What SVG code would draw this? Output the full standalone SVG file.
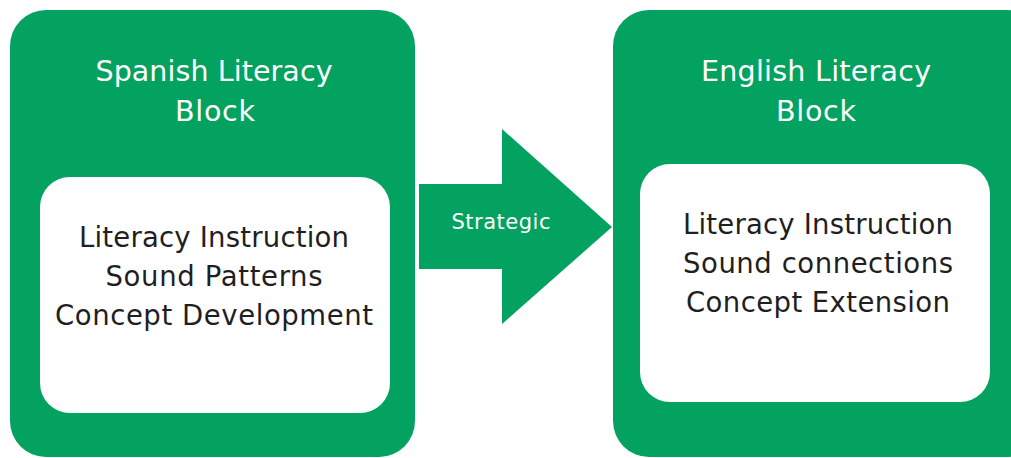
<svg xmlns="http://www.w3.org/2000/svg" width="1011" height="458" viewBox="0 0 1011 458">
<style>
.outer{fill:#04a261}
.inner{fill:#ffffff}
.head{font-family:"DejaVu Sans","Open Sans",sans-serif;font-size:28.5px;fill:#ffffff;text-anchor:middle}
.body{font-family:"DejaVu Sans","Open Sans",sans-serif;font-size:27.5px;fill:#1f1f1f;text-anchor:middle}
.lbl{font-family:"DejaVu Sans","Open Sans",sans-serif;font-size:21px;fill:#ffffff;text-anchor:middle}
</style>
<rect width="1011" height="458" fill="#ffffff"/>
<g id="spanish">
<rect class="outer" x="10" y="10" width="405" height="447" rx="36"/>
<text class="head" x="214" y="81" textLength="237" lengthAdjust="spacing">Spanish Literacy</text>
<text class="head" x="215" y="121" textLength="80" lengthAdjust="spacing">Block</text>
<rect class="inner" x="40" y="177" width="350" height="236" rx="30"/>
<text class="body" x="214" y="247" textLength="270" lengthAdjust="spacing">Literacy Instruction</text>
<text class="body" x="214" y="286" textLength="217" lengthAdjust="spacing">Sound Patterns</text>
<text class="body" x="214" y="325" textLength="318" lengthAdjust="spacing">Concept Development</text>
</g>
<g id="connectors">
<polygon class="outer" points="419,184 502,184 502,129 612,227 502,324 502,269 419,269"/>
<text class="lbl" x="501" y="229" textLength="99" lengthAdjust="spacing">Strategic</text>
</g>
<g id="english">
<rect class="outer" x="613" y="10" width="430" height="447" rx="36"/>
<text class="head" x="816" y="81" textLength="230" lengthAdjust="spacing">English Literacy</text>
<text class="head" x="816" y="121" textLength="80" lengthAdjust="spacing">Block</text>
<rect class="inner" x="640" y="164" width="350" height="238" rx="30"/>
<text class="body" x="818" y="234" textLength="270" lengthAdjust="spacing">Literacy Instruction</text>
<text class="body" x="818" y="273" textLength="270" lengthAdjust="spacing">Sound connections</text>
<text class="body" x="818" y="312" textLength="264" lengthAdjust="spacing">Concept Extension</text>
</g>
</svg>
